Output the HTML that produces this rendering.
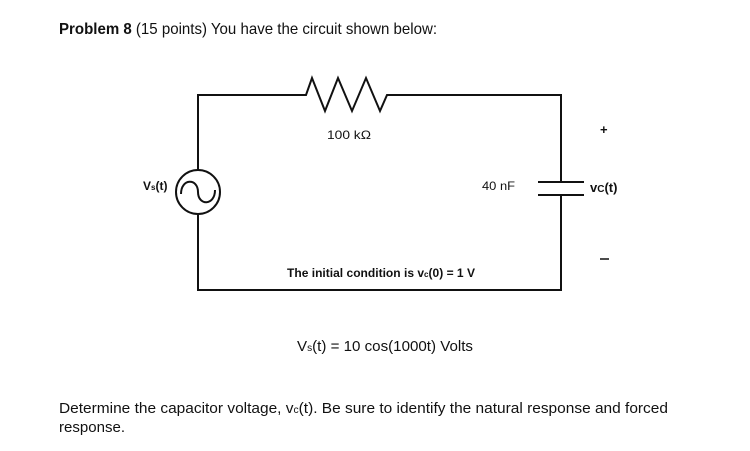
<!DOCTYPE html>
<html><head><style>body{margin:0;background:#fff}svg{display:block}</style></head>
<body>
<svg width="750" height="451" viewBox="0 0 750 451" xmlns="http://www.w3.org/2000/svg" font-family="Liberation Sans, sans-serif" fill="#111">
<text x="59" y="34" font-size="16" textLength="378" lengthAdjust="spacingAndGlyphs"><tspan font-weight="bold">Problem 8</tspan> (15 points) You have the circuit shown below:</text>
<g stroke="#111" stroke-width="2" fill="none">
<polyline points="198,170 198,95 306,95 312,78 325,111 338,78 352,111 366,78 380,111 387,95 561,95 561,182"/>
<polyline points="198,214 198,290 561,290 561,195"/>
<line x1="538" y1="182" x2="584" y2="182"/>
<line x1="538" y1="195" x2="584" y2="195"/>
<circle cx="198" cy="192" r="22"/>
<path d="M181,194 C181,178 198,178 198,192 C198,206 215,206 215,190"/>
</g>
<text x="327" y="139" font-size="12" textLength="44" lengthAdjust="spacingAndGlyphs">100 kΩ</text>
<text x="482" y="190" font-size="12" textLength="33" lengthAdjust="spacingAndGlyphs">40 nF</text>
<text x="590" y="192" font-size="13" font-weight="bold">v<tspan font-size="10">C</tspan>(t)</text>
<text x="600" y="134" font-size="13" font-weight="bold">+</text>
<line x1="600" y1="259" x2="609" y2="259" stroke="#111" stroke-width="1.5"/>
<text x="143" y="190" font-size="12" font-weight="bold">V<tspan font-size="8">s</tspan>(t)</text>
<text x="287" y="277" font-size="12" font-weight="bold" textLength="188" lengthAdjust="spacingAndGlyphs">The initial condition is v<tspan font-size="8">c</tspan>(0) = 1 V</text>
<text x="297" y="351" font-size="15" textLength="176" lengthAdjust="spacingAndGlyphs">V<tspan font-size="10">s</tspan>(t) = 10 cos(1000t) Volts</text>
<text x="59" y="413" font-size="15" textLength="609" lengthAdjust="spacingAndGlyphs">Determine the capacitor voltage, v<tspan font-size="10">c</tspan>(t). Be sure to identify the natural response and forced</text>
<text x="59" y="432" font-size="15" textLength="66" lengthAdjust="spacingAndGlyphs">response.</text>
</svg>
</body></html>
